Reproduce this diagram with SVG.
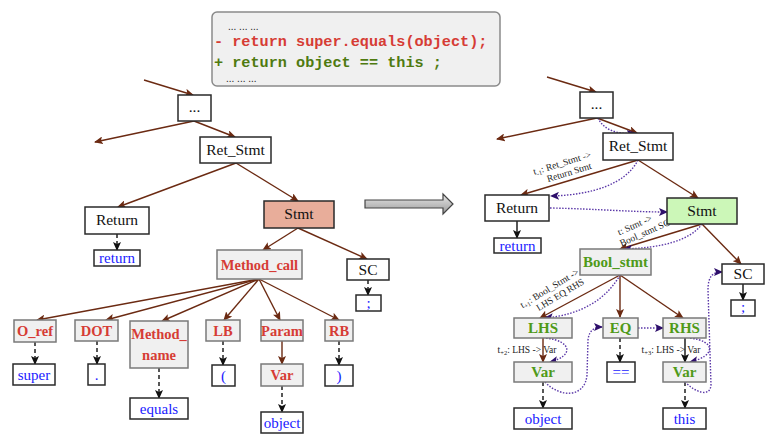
<svg xmlns="http://www.w3.org/2000/svg" width="772" height="441" viewBox="0 0 772 441">
<defs>
<style>
.n{fill:#fff;stroke:#2a2a2a;stroke-width:1.5}
.g{fill:#f0f0f0;stroke:#7a7a7a;stroke-width:1.5}
.t{font-family:"Liberation Serif","Times New Roman",serif;font-size:15.5px;fill:#111;text-anchor:middle}
.r{font-family:"Liberation Serif","Times New Roman",serif;font-size:14.5px;font-weight:bold;fill:#d63c35;text-anchor:middle}
.gr{font-family:"Liberation Serif","Times New Roman",serif;font-size:15px;font-weight:bold;fill:#4f9a18;text-anchor:middle}
.b{font-family:"Liberation Serif","Times New Roman",serif;font-size:15px;fill:#1a1aff;text-anchor:middle}
.s{font-family:"Liberation Serif","Times New Roman",serif;font-size:9.5px;fill:#222;text-anchor:middle}
.br{fill:none;stroke:#6b2a12;stroke-width:1.4;marker-end:url(#ab)}
.bk{fill:none;stroke:#111;stroke-width:1.4;marker-end:url(#ak)}
.dk{fill:none;stroke:#111;stroke-width:1.4;stroke-dasharray:4,3;marker-end:url(#ak)}
.pp{fill:none;stroke:#5b38a8;stroke-width:1.4;stroke-dasharray:1.5,1.5;marker-end:url(#ap)}
.code{font-family:"Liberation Mono","Courier New",monospace;font-size:15.2px;font-weight:bold}
</style>
<marker id="ab" markerWidth="9" markerHeight="8" refX="8" refY="4" orient="auto" markerUnits="userSpaceOnUse"><path d="M0,0 L9,4 L0,8 L2,4 z" fill="#6b2a12"/></marker>
<marker id="ak" markerWidth="9" markerHeight="8" refX="8" refY="4" orient="auto" markerUnits="userSpaceOnUse"><path d="M0,0 L9,4 L0,8 L2,4 z" fill="#111"/></marker>
<marker id="ap" markerWidth="9" markerHeight="8" refX="8" refY="4" orient="auto" markerUnits="userSpaceOnUse"><path d="M0,0 L9,4 L0,8 L2,4 z" fill="#2e0f6b"/></marker>
<linearGradient id="ag" x1="0" y1="0" x2="0" y2="1"><stop offset="0" stop-color="#e8e8e8"/><stop offset="1" stop-color="#9a9a9a"/></linearGradient>
</defs>
<rect width="772" height="441" fill="#fff"/>

<g id="code">
<rect x="212" y="12" width="288" height="74" rx="5" fill="#f0f0f0" stroke="#8a8a8a" stroke-width="1.5"/>
<text x="228" y="30" font-family="Liberation Sans,Arial,sans-serif" font-size="10" fill="#222">... ... ...</text>
<text x="214" y="46" class="code" fill="#d63c35">- return super.equals(object);</text>
<text x="214" y="67" class="code" fill="#4f7a10">+ return object == this ;</text>
<text x="226" y="82" font-family="Liberation Sans,Arial,sans-serif" font-size="10" fill="#222">... ... ...</text>
</g>

<g id="bigarrow">
<polygon points="365,200 443,200 443,194 453,204 443,214 443,208 365,208" fill="url(#ag)" stroke="#444" stroke-width="1.2"/>
</g>

<g id="connectors">
<path class="br" d="M144,80 L193,95"/>
<path class="br" d="M194,121 L95,142"/>
<path class="br" d="M194,121 L235,137"/>
<path class="br" d="M236,163 L118,207"/>
<path class="br" d="M236,163 L298,201"/>
<path class="br" d="M298,228 L263,250"/>
<path class="br" d="M298,228 L367,259"/>
<path class="dk" d="M117,234 L117,250"/>
<path class="dk" d="M368,280 L368,295"/>
<path class="br" d="M259,279 L37,320"/>
<path class="br" d="M259,279 L106,320"/>
<path class="br" d="M259,279 L162,321"/>
<path class="br" d="M259,279 L224,320"/>
<path class="br" d="M259,279 L280,320"/>
<path class="br" d="M259,279 L339,320"/>
<path class="br" d="M282,341 L282,364"/>
<path class="dk" d="M35,342 L35,364"/>
<path class="dk" d="M97,341 L97,364"/>
<path class="dk" d="M159,368 L159,398"/>
<path class="dk" d="M223,341 L223,365"/>
<path class="dk" d="M282,386 L282,412"/>
<path class="dk" d="M339,341 L339,365"/>

<path class="br" d="M547,77 L596,92"/>
<path class="br" d="M597,118 L497,139"/>
<path class="br" d="M597,118 L637,133"/>
<path class="pp" d="M598,118 C604,131 620,135 635,133"/>
<path class="br" d="M638,160 L521,195"/>
<path class="pp" d="M638,160 C626,184 592,195 551,196"/>
<path class="pp" d="M550,208 C600,209 630,212 667,212"/>
<path class="br" d="M638,160 L698,198"/>
<path class="bk" d="M517,221 L517,238"/>
<path class="br" d="M702,224 L620,249"/>
<path class="pp" d="M702,224 C690,241 660,248 624,249"/>
<path class="br" d="M702,224 L741,264"/>
<path class="bk" d="M743,284 L743,300"/>
<path class="br" d="M620,275 L540,318"/>
<path class="br" d="M620,275 L620,317"/>
<path class="br" d="M620,275 L683,318"/>
<path class="pp" d="M620,275 C606,300 580,315 545,318"/>
<path class="br" d="M543,338 L543,362"/>
<path class="pp" d="M546,338 C572,341 574,356 550,362"/>
<path class="dk" d="M543,382 L543,408"/>
<path class="dk" d="M620,338 L620,362"/>
<path class="pp" d="M638,328 L663,328"/>
<path class="pp" d="M545,382 C560,398 585,398 587,375 L588,340 C589,330 595,327 602,327"/>
<path class="bk" d="M685,338 L685,362"/>
<path class="pp" d="M690,338 C716,341 716,356 690,362"/>
<path class="dk" d="M685,382 L685,408"/>
<path class="pp" d="M685,382 C695,392 710,398 711,385 L708,290 C708,276 713,272 722,272"/>
</g>

<g id="labels">
<g transform="translate(563,166) rotate(-17)"><text class="s" x="0" y="0">t<tspan font-size="6.5" dy="2">-1</tspan><tspan dy="-2">: Ret_Stmt -&gt;</tspan></text><text class="s" x="4" y="11">Return Stmt</text></g>
<g transform="translate(636,228) rotate(-24)"><text class="s" x="0" y="0">t: Stmt -&gt;</text><text class="s" x="6" y="11">Bool_stmt SC</text></g>
<g transform="translate(551,291) rotate(-31)"><text class="s" x="0" y="0">t<tspan font-size="6.5" dy="2">+1</tspan><tspan dy="-2">: Bool_Stmt -&gt;</tspan></text><text class="s" x="6" y="11">LHS EQ RHS</text></g>
<text class="s" x="527" y="353">t<tspan font-size="6.5" dy="2">+2</tspan><tspan dy="-2">: LHS -&gt; Var</tspan></text>
<text class="s" x="671" y="353">t<tspan font-size="6.5" dy="2">+3</tspan><tspan dy="-2">: LHS -&gt; Var</tspan></text>
</g>

<g id="L_dots"><rect class="n" x="178" y="95" width="33" height="26"/><text class="t" x="194.5" y="112">...</text></g>
<g id="L_ret_stmt"><rect class="n" x="200" y="137" width="71" height="26"/><text class="t" x="235.5" y="155">Ret_Stmt</text></g>
<g id="L_return"><rect class="n" x="85" y="207" width="64" height="27"/><text class="t" x="117" y="225">Return</text></g>
<g id="L_stmt"><rect x="264" y="201" width="70" height="27" fill="#e8ad9a" stroke="#2a2a2a" stroke-width="1.5"/><text class="t" x="299" y="219">Stmt</text></g>
<g id="L_return_tok"><rect class="n" x="94" y="250" width="46" height="16"/><text class="b" x="117" y="263">return</text></g>
<g id="L_method_call"><rect class="g" x="217" y="250" width="85" height="29"/><text class="r" x="259.5" y="270">Method_call</text></g>
<g id="L_sc"><rect class="n" x="347" y="259" width="42" height="21"/><text class="t" x="368" y="275">SC</text></g>
<g id="L_semi"><rect class="n" x="356" y="295" width="25" height="16"/><text class="b" x="368.5" y="308">;</text></g>
<g id="L_oref"><rect class="g" x="14" y="320" width="42" height="22"/><text class="r" x="35" y="336">O_ref</text></g>
<g id="L_dot"><rect class="g" x="75" y="320" width="43" height="21"/><text class="r" x="96.5" y="336">DOT</text></g>
<g id="L_method_name"><rect class="g" x="130" y="321" width="58" height="47"/><text class="r" x="159" y="339">Method_</text><text class="r" x="159" y="360">name</text></g>
<g id="L_lb"><rect class="g" x="206" y="320" width="34" height="21"/><text class="r" x="223" y="336">LB</text></g>
<g id="L_param"><rect class="g" x="261" y="320" width="42" height="21"/><text class="r" x="282" y="336">Param</text></g>
<g id="L_rb"><rect class="g" x="325" y="320" width="28" height="21"/><text class="r" x="339" y="336">RB</text></g>
<g id="L_super"><rect class="n" x="13" y="364" width="42" height="21"/><text class="b" x="34" y="380">super</text></g>
<g id="L_dottok"><rect class="n" x="88" y="364" width="17" height="21"/><text class="b" x="96.5" y="380">.</text></g>
<g id="L_lp"><rect class="n" x="212" y="365" width="23" height="21"/><text class="b" x="223.5" y="381">(</text></g>
<g id="L_var"><rect class="g" x="261" y="364" width="42" height="22"/><text class="r" x="282" y="380">Var</text></g>
<g id="L_rp"><rect class="n" x="325" y="365" width="28" height="21"/><text class="b" x="339" y="381">)</text></g>
<g id="L_equals"><rect class="n" x="130" y="398" width="58" height="21"/><text class="b" x="159" y="414">equals</text></g>
<g id="L_object"><rect class="n" x="261" y="412" width="42" height="21"/><text class="b" x="282" y="428">object</text></g>

<g id="R_dots"><rect class="n" x="580" y="92" width="33" height="26"/><text class="t" x="596.5" y="109">...</text></g>
<g id="R_ret_stmt"><rect class="n" x="603" y="133" width="70" height="27"/><text class="t" x="638" y="151">Ret_Stmt</text></g>
<g id="R_return"><rect class="n" x="485" y="195" width="64" height="26"/><text class="t" x="517" y="213">Return</text></g>
<g id="R_stmt"><rect x="667" y="198" width="70" height="26" fill="#ccf7b8" stroke="#2a2a2a" stroke-width="1.5"/><text class="t" x="702" y="216">Stmt</text></g>
<g id="R_return_tok"><rect class="n" x="494" y="238" width="47" height="15"/><text class="b" x="517.5" y="251">return</text></g>
<g id="R_bool_stmt"><rect class="g" x="580" y="249" width="71" height="26"/><text class="gr" x="615.5" y="267">Bool_stmt</text></g>
<g id="R_sc"><rect class="n" x="722" y="264" width="42" height="20"/><text class="t" x="743" y="279">SC</text></g>
<g id="R_semi"><rect class="n" x="731" y="300" width="24" height="16"/><text class="b" x="743" y="312">;</text></g>
<g id="R_lhs"><rect class="g" x="514" y="318" width="58" height="20"/><text class="gr" x="543" y="333">LHS</text></g>
<g id="R_eq"><rect class="g" x="603" y="318" width="35" height="20"/><text class="gr" x="620.5" y="333">EQ</text></g>
<g id="R_rhs"><rect class="g" x="663" y="318" width="43" height="20"/><text class="gr" x="684.5" y="333">RHS</text></g>
<g id="R_var1"><rect class="g" x="514" y="362" width="58" height="20"/><text class="gr" x="543" y="377">Var</text></g>
<g id="R_eqtok"><rect class="n" x="607" y="362" width="28" height="20"/><text class="b" x="621" y="377">==</text></g>
<g id="R_var2"><rect class="g" x="663" y="362" width="43" height="20"/><text class="gr" x="684.5" y="377">Var</text></g>
<g id="R_object"><rect class="n" x="514" y="408" width="58" height="21"/><text class="b" x="543" y="424">object</text></g>
<g id="R_this"><rect class="n" x="663" y="408" width="43" height="21"/><text class="b" x="684.5" y="424">this</text></g>
</svg>
